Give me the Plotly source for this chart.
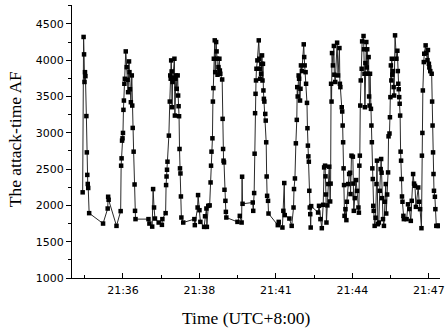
import plotly.graph_objects as go

DAY = "2023-01-01 "

times = [
    "21:34:33", "21:34:35", "21:34:36", "21:34:37", "21:34:38", "21:34:39", "21:34:41", "21:34:42",
    "21:34:43", "21:34:44", "21:34:45", "21:34:47",
    "21:35:17", "21:35:27", "21:35:28", "21:35:29", "21:35:46", "21:35:55",
    "21:35:56", "21:35:57", "21:35:58", "21:35:59", "21:36:00", "21:36:01", "21:36:02", "21:36:03",
    "21:36:04", "21:36:06", "21:36:08", "21:36:10", "21:36:11", "21:36:13", "21:36:14", "21:36:15",
    "21:36:17", "21:36:19", "21:36:20", "21:36:21", "21:36:23", "21:36:25", "21:36:26", "21:36:27",
    "21:36:55", "21:36:57", "21:37:03", "21:37:05", "21:37:07", "21:37:09", "21:37:17", "21:37:24",
    "21:37:25", "21:37:32", "21:37:33", "21:37:34", "21:37:35", "21:37:36",
    "21:37:39", "21:37:41", "21:37:42", "21:37:43", "21:37:44", "21:37:45", "21:37:46", "21:37:47",
    "21:37:48", "21:37:51", "21:37:52", "21:37:53", "21:37:54", "21:37:56", "21:37:58", "21:37:59",
    "21:38:00", "21:38:01", "21:38:02", "21:38:03", "21:38:04", "21:38:05", "21:38:06", "21:38:10",
    "21:38:34", "21:38:35", "21:38:41", "21:38:42", "21:38:45", "21:38:47", "21:38:55", "21:38:57",
    "21:39:00", "21:39:01", "21:39:04", "21:39:07",
    "21:39:09", "21:39:10", "21:39:11", "21:39:13", "21:39:14", "21:39:15", "21:39:16", "21:39:18",
    "21:39:19", "21:39:21", "21:39:22", "21:39:23", "21:39:24", "21:39:26", "21:39:28", "21:39:29",
    "21:39:30", "21:39:34", "21:39:35", "21:39:36", "21:39:37", "21:39:38", "21:39:39", "21:39:41",
    "21:39:42", "21:39:43",
    "21:40:07", "21:40:12", "21:40:16", "21:40:17", "21:40:18", "21:40:40", "21:40:41", "21:40:43",
    "21:40:44",
    "21:40:45", "21:40:46", "21:40:47", "21:40:48", "21:40:50", "21:40:53", "21:40:54", "21:40:55",
    "21:40:56", "21:40:58", "21:40:59", "21:41:00", "21:41:01", "21:41:02", "21:41:03", "21:41:04",
    "21:41:05", "21:41:07", "21:41:08", "21:41:09", "21:41:10", "21:41:11", "21:41:13", "21:41:14",
    "21:41:34", "21:41:36", "21:41:44", "21:41:46", "21:41:48", "21:41:49", "21:41:59", "21:42:04",
    "21:42:08", "21:42:09", "21:42:11", "21:42:13",
    "21:42:15", "21:42:16", "21:42:17", "21:42:19", "21:42:20", "21:42:22", "21:42:23", "21:42:24",
    "21:42:26", "21:42:30", "21:42:31", "21:42:32", "21:42:34", "21:42:35", "21:42:37", "21:42:38",
    "21:42:39", "21:42:40", "21:42:41", "21:42:42", "21:42:43", "21:42:44", "21:42:45", "21:42:46",
    "21:43:01", "21:43:03", "21:43:06", "21:43:09", "21:43:12", "21:43:14", "21:43:16", "21:43:17",
    "21:43:18", "21:43:19", "21:43:21", "21:43:23", "21:43:25", "21:43:27", "21:43:28",
    "21:43:29", "21:43:30", "21:43:31", "21:43:33", "21:43:35", "21:43:36", "21:43:38", "21:43:42",
    "21:43:44", "21:43:47", "21:43:48", "21:43:49", "21:43:52", "21:43:53", "21:43:54", "21:43:55",
    "21:43:56", "21:43:57", "21:43:58", "21:44:00", "21:44:02",
    "21:44:03", "21:44:06", "21:44:08", "21:44:10", "21:44:11", "21:44:13", "21:44:16", "21:44:17",
    "21:44:18", "21:44:20", "21:44:23", "21:44:25", "21:44:28", "21:44:29", "21:44:30", "21:44:31",
    "21:44:32", "21:44:33", "21:44:35", "21:44:36", "21:44:39", "21:44:40", "21:44:41", "21:44:42",
    "21:44:43", "21:44:45", "21:44:46", "21:44:47", "21:44:48", "21:44:50", "21:44:51", "21:44:52",
    "21:44:53", "21:44:55", "21:44:56", "21:44:57", "21:44:58", "21:44:59", "21:45:00", "21:45:01",
    "21:45:03", "21:45:05",
    "21:45:07", "21:45:08", "21:45:10", "21:45:12", "21:45:14", "21:45:16", "21:45:17", "21:45:18",
    "21:45:19", "21:45:21", "21:45:23", "21:45:25", "21:45:27", "21:45:28", "21:45:30", "21:45:32",
    "21:45:33", "21:45:35", "21:45:36", "21:45:37", "21:45:38", "21:45:39", "21:45:40", "21:45:41",
    "21:45:42", "21:45:44", "21:45:45", "21:45:47", "21:45:50", "21:45:52", "21:45:53", "21:45:54",
    "21:45:55", "21:45:56", "21:45:57", "21:45:58", "21:45:59", "21:46:00", "21:46:01", "21:46:02",
    "21:46:03", "21:46:05", "21:46:06",
    "21:46:12", "21:46:15", "21:46:18", "21:46:21", "21:46:23", "21:46:26", "21:46:28", "21:46:30",
    "21:46:32", "21:46:37", "21:46:39", "21:46:41", "21:46:44",
    "21:46:45", "21:46:46", "21:46:47", "21:46:49", "21:46:50", "21:46:53", "21:46:54", "21:46:57",
    "21:46:58", "21:47:00", "21:47:01", "21:47:03", "21:47:06", "21:47:07", "21:47:08", "21:47:09",
    "21:47:10", "21:47:11", "21:47:13", "21:47:14", "21:47:16", "21:47:19", "21:47:21", "21:47:23",
]

af_values = [
    2180, 4320, 4080, 3700, 3835, 3780, 3230, 2730,
    2420, 2295, 2240, 1893,
    1750, 1957, 2119, 2077, 1718, 1921,
    2547, 2648, 2892, 2924, 2998, 3316, 3444, 3675,
    3744, 4121, 3904, 3730, 3559, 3983, 3835, 3600,
    3421, 3790, 3375, 3067, 2740, 2288, 1925, 1811,
    1811, 1750, 1708, 2225, 1971, 1819, 1764, 1732,
    1811, 1893, 2280, 2398, 2491, 2602,
    2961, 3430, 3790, 3744, 3997, 3845, 3352, 3700,
    3760, 4020, 3237, 3744, 3790, 3606, 3790, 3513,
    3366, 3228, 2777, 2510, 2440, 2123, 1833, 1764,
    1811, 1728, 1971, 2142, 1934, 1773, 1704, 1850,
    1957, 1704, 1994, 2000,
    2316, 2547, 2740, 2924, 3430, 3615, 4020, 4273,
    3835, 4250, 4121, 4020, 3799, 3904, 4020, 3858,
    3813, 3734, 3192, 2777, 2616, 2592, 2215, 2063,
    1911, 1833,
    1773, 1856, 1764, 2395, 2022, 2040, 1925, 2170,
    2712,
    3270, 3537, 3721, 3882, 3997, 4273, 4020, 3882,
    3744, 3813, 3951, 4066, 3720, 3950, 3583, 3468,
    3430, 3260, 3168, 2869, 2398, 2132, 2063, 1888,
    1728, 1773, 1695, 1925, 2308, 1866, 1819, 1718,
    1971, 2225, 2371, 2855,
    3178, 3629, 3500, 3790, 3744, 3444, 3606, 3928,
    3850, 4218, 4043, 3928, 3835, 3675, 3412, 3063,
    2823, 2675, 2602, 2201, 1971, 1879, 1695, 1990,
    1902, 1994, 1811, 1686, 2008, 2523, 2547, 2400,
    2150, 1764, 2000, 2294, 2533, 2054, 2300,
    3675, 3430, 4098, 3928, 4196, 3800, 3700, 4241,
    3790, 4167, 3675, 3629, 3352, 3293, 3100, 2869,
    2510, 2280, 1856, 1948, 1797,
    2050, 2294, 2432, 2450, 2156, 2685, 2671, 2300,
    1925, 2100, 2349, 2200, 1971, 1900, 2547, 2685,
    3375, 3721, 3882, 4259, 4333, 4150, 3813, 3352,
    3960, 4250, 3900, 4150, 3813, 4043, 3500, 3375,
    3813, 3330, 3100, 2870, 2510, 2363, 1994, 1925,
    1718, 1830,
    2294, 2616, 1741, 1764, 2201, 2500, 2639, 2450,
    2100, 1811, 1718, 2050, 2294, 1888, 2150, 2454,
    2951, 2990, 3214, 3491, 3928, 3721, 4020, 3800,
    3850, 3629, 3513, 4342, 4020, 4130, 3850, 3675,
    3600, 3491, 3400, 3237, 2740, 2616, 2363, 2123,
    2050, 1856, 1811,
    1811, 2015, 1950, 1787, 2063, 2432, 2300, 2270,
    1980, 2247, 2050, 1948, 1686,
    2685, 2998, 3583, 3974, 4089, 4204, 4100, 4000,
    4140, 3950, 3900, 3849, 3813, 3430, 3100, 2730,
    2432, 2201, 2119, 1948, 1718, 1718, 1718, 1718,
]

x_major = ["21:36:00", "21:38:45", "21:41:30", "21:44:15", "21:47:00"]
x_minor = ["21:34:37.5", "21:37:22.5", "21:40:07.5", "21:42:52.5", "21:45:37.5"]
x_range = ["21:34:10", "21:47:24"]
y_major = [1000, 1500, 2000, 2500, 3000, 3500, 4000, 4500]
y_minor = [1250, 1750, 2250, 2750, 3250, 3750, 4250, 4750]

fig = go.Figure()
fig.add_trace(go.Scatter(
    x=[DAY + t for t in times],
    y=af_values,
    mode="lines+markers",
    line=dict(color="#2a2a2a", width=1),
    marker=dict(symbol="square", size=4.5, color="black"),
    showlegend=False,
))

tickfont = dict(family="DejaVu Sans", size=11, color="black")
titlefont = dict(family="Liberation Serif", size=17.5, color="black")

fig.update_layout(
    width=445, height=334,
    margin=dict(l=72, r=5, t=5, b=56),
    paper_bgcolor="white", plot_bgcolor="white",
    xaxis=dict(
        type="date",
        range=[DAY + t for t in x_range],
        tickmode="array",
        tickvals=[DAY + t for t in x_major],
        tickformat="%H:%M",
        ticks="inside", ticklen=5, tickwidth=1, tickcolor="black",
        minor=dict(tickmode="array", tickvals=[DAY + t for t in x_minor],
                   ticks="inside", ticklen=3, tickwidth=1, tickcolor="black"),
        showline=True, linecolor="black", linewidth=1,
        showgrid=False, zeroline=False, automargin=False,
        tickfont=tickfont, ticklabelstandoff=2,
    ),
    yaxis=dict(
        range=[1000, 4760],
        tickmode="array",
        tickvals=y_major,
        ticks="outside", ticklen=5, tickwidth=1, tickcolor="black",
        minor=dict(tickmode="array", tickvals=y_minor,
                   ticks="outside", ticklen=3, tickwidth=1, tickcolor="black"),
        showline=True, linecolor="black", linewidth=1,
        showgrid=False, zeroline=False, automargin=False,
        tickfont=tickfont,
    ),
    annotations=[
        dict(text="Time (UTC+8:00)", xref="paper", yref="paper",
             x=0.4755, y=-0.145, xanchor="center", yanchor="middle",
             showarrow=False, font=titlefont),
        dict(text="The attack-time AF", xref="paper", yref="paper",
             x=-0.155, y=0.508, xanchor="center", yanchor="middle",
             textangle=-90, showarrow=False, font=titlefont),
    ],
)

fig.write_html("out.html",
               config={"displayModeBar": False},
               post_script="document.body.style.margin='0';document.body.style.padding='0';")
